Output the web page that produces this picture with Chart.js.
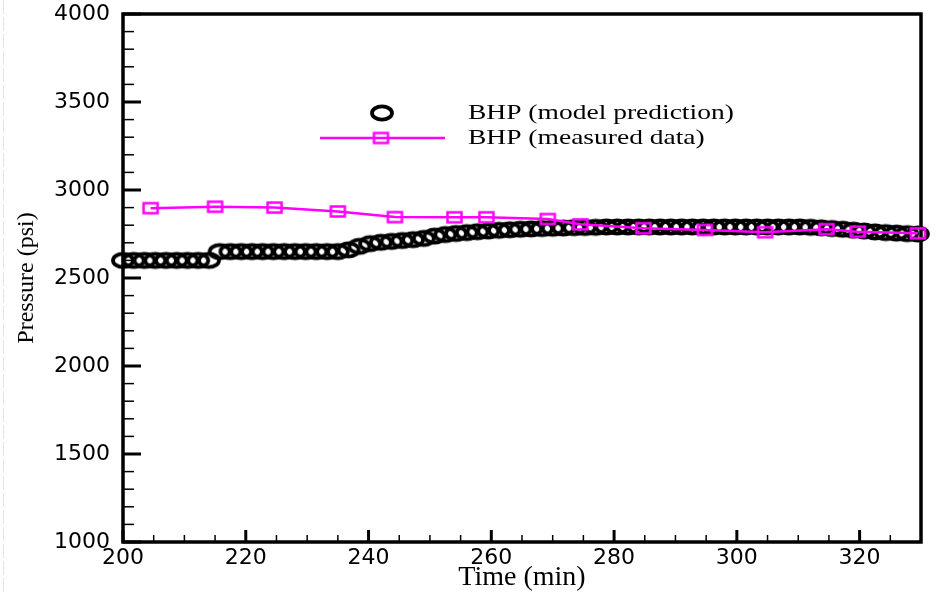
<!DOCTYPE html>
<html>
<head>
<meta charset="utf-8">
<script src="https://cdn.jsdelivr.net/npm/chart.js@4.4.1/dist/chart.umd.min.js"></script>
<style>
  html, body { margin: 0; padding: 0; background: #fff; }
  #wrap { width: 940px; height: 594px; }
</style>
</head>
<body>
<div id="wrap"><canvas id="bhpChart" width="940" height="594"></canvas></div>
<script>
// model prediction (circles)
const modelTime = [200, 201.75, 203.5, 205.25, 207, 208.75, 210.5, 212.25, 214,
  215.75, 217.5, 219.25, 221, 222.75, 224.5, 226.25, 228, 229.75, 231.5, 233.25, 235,
  236.75, 238.5, 240.25, 242, 243.75, 245.5, 247.25, 249, 250.75, 252.5, 254.25, 256,
  257.75, 259.5, 261.25, 263, 264.75, 266.5, 268.25, 270, 271.75, 273.5, 275.25, 277,
  278.75, 280.5, 282.25, 284, 285.75, 287.5, 289.25, 291, 292.75, 294.5, 296.25, 298,
  299.75, 301.5, 303.25, 305, 306.75, 308.5, 310.25, 312, 313.75, 315.5, 317.25, 319,
  320.75, 322.5, 324.25, 326, 327.75, 329.5];
const modelBHP = [2600, 2600, 2600, 2600, 2600, 2600, 2600, 2600, 2600,
  2650, 2650, 2650, 2650, 2650, 2650, 2650, 2650, 2650, 2650, 2650, 2650,
  2660, 2680, 2695, 2703, 2708, 2713, 2718, 2725, 2738, 2747, 2753, 2758,
  2763, 2767, 2771, 2774, 2777, 2779, 2781, 2783, 2784, 2786, 2787, 2788,
  2790, 2790, 2790, 2790, 2790, 2790, 2790, 2790, 2790, 2790, 2790, 2790,
  2790, 2790, 2790, 2790, 2790, 2790, 2790, 2788, 2785, 2781, 2777, 2772,
  2767, 2762, 2758, 2755, 2752, 2750];

// measured data (squares + line)
const measTime = [204.5, 215, 224.7, 235, 244.3, 254, 259.2, 269.2, 274.5, 284.8, 294.8, 304.6, 314.6, 319.7, 329.5];
const measBHP = [2897, 2905, 2900, 2878, 2846, 2845, 2845, 2835, 2805, 2783, 2773, 2760, 2777, 2763, 2754];

const xTicks = [200, 220, 240, 260, 280, 300, 320];
const yTicks = [1000, 1500, 2000, 2500, 3000, 3500, 4000];
const xMinorStep = 5;
const yMinorStep = 100;

const legendLabels = ['BHP (model prediction)', 'BHP (measured data)'];
const MAGENTA = '#ff00ff';

// point symbols (stretched like the original plot)
function makeEllipse() {
  const c = document.createElement('canvas');
  c.width = 26; c.height = 20;
  const g = c.getContext('2d');
  g.lineWidth = 3.8;
  g.strokeStyle = '#000';
  g.beginPath();
  g.ellipse(13, 10, 10, 6.6, 0, 0, Math.PI * 2);
  g.stroke();
  return c;
}
function makeRect() {
  const c = document.createElement('canvas');
  c.width = 19; c.height = 15;
  const g = c.getContext('2d');
  g.lineWidth = 2.5;
  g.strokeStyle = MAGENTA;
  g.strokeRect(2.5, 2.5, 14, 10);
  return c;
}
const ellipseImg = makeEllipse();
const rectImg = makeRect();

const framePlugin = {
  id: 'frame',
  beforeDatasetsDraw(chart) {
    const { ctx, chartArea: a, scales } = chart;
    ctx.save();
    // faint line at the far left edge
    ctx.strokeStyle = '#e4e4e4';
    ctx.lineWidth = 1;
    ctx.setLineDash([14, 3]);
    ctx.beginPath(); ctx.moveTo(3.5, 0); ctx.lineTo(3.5, 594); ctx.stroke();
    ctx.setLineDash([]);

    ctx.strokeStyle = '#000';
    // y ticks (inside, from left axis)
    for (let v = 1000; v <= 4000; v += yMinorStep) {
      const y = scales.y.getPixelForValue(v);
      const major = v % 500 === 0;
      ctx.lineWidth = major ? 3 : 1.5;
      ctx.beginPath();
      ctx.moveTo(a.left, y);
      ctx.lineTo(a.left + (major ? 18 : 11), y);
      ctx.stroke();
    }
    // x ticks (inside, from bottom axis)
    for (let v = 200; v <= 330; v += xMinorStep) {
      const x = scales.x.getPixelForValue(v);
      const major = v % 20 === 0;
      ctx.lineWidth = major ? 3 : 1.5;
      ctx.beginPath();
      ctx.moveTo(x, a.bottom);
      ctx.lineTo(x, a.bottom - (major ? 12 : 7));
      ctx.stroke();
    }
    // frame
    ctx.lineWidth = 3.5;
    ctx.strokeRect(a.left, a.top, a.right - a.left, a.bottom - a.top);
    ctx.restore();
  },
  afterDraw(chart) {
    const ctx = chart.ctx;
    ctx.save();
    // legend symbols
    ctx.drawImage(ellipseImg, 382 - 13, 113 - 10);
    ctx.strokeStyle = MAGENTA;
    ctx.lineWidth = 2.5;
    ctx.beginPath(); ctx.moveTo(320, 138); ctx.lineTo(445, 138); ctx.stroke();
    ctx.drawImage(rectImg, 381 - 9.5, 138 - 7.5);
    // legend text, stretched horizontally
    ctx.fillStyle = '#000';
    ctx.font = '22px "Liberation Serif", "Times New Roman", serif';
    ctx.textBaseline = 'middle';
    const rows = [113, 138];
    legendLabels.forEach((t, i) => {
      ctx.save();
      ctx.translate(468, rows[i]);
      ctx.scale(1.25, 1);
      ctx.fillText(t, 0, 0);
      ctx.restore();
    });
    ctx.restore();
  }
};

const ctx = document.getElementById('bhpChart').getContext('2d');
const bhpChart = new Chart(ctx, {
  type: 'scatter',
  data: {
    datasets: [{
      label: legendLabels[0],
      data: modelTime.map((t, i) => ({ x: t, y: modelBHP[i] })),
      showLine: false,
      pointStyle: ellipseImg,
      clip: false,
      order: 2
    }, {
      label: legendLabels[1],
      data: measTime.map((t, i) => ({ x: t, y: measBHP[i] })),
      showLine: true,
      borderColor: MAGENTA,
      borderWidth: 2.5,
      pointStyle: rectImg,
      tension: 0,
      clip: false,
      order: 1
    }]
  },
  options: {
    responsive: false,
    animation: false,
    events: [],
    layout: { padding: { top: 14, right: 19, left: 0, bottom: 0 } },
    plugins: { legend: { display: false }, tooltip: { enabled: false } },
    scales: {
      x: {
        type: 'linear',
        min: 200,
        max: 330,
        afterBuildTicks: s => { s.ticks = xTicks.map(v => ({ value: v })); },
        afterFit: s => { s.height = 52; s.paddingLeft = 0; s.paddingRight = 0; },
        grid: { display: false, drawTicks: false },
        border: { display: false },
        ticks: {
          color: '#000',
          padding: 3,
          maxRotation: 0,
          callback: v => String(v),
          font: { family: '"DejaVu Sans", sans-serif', size: 22 }
        },
        title: {
          display: true,
          text: 'Time (min)',
          color: '#000',
          padding: { top: 0, bottom: 0 },
          font: { family: '"Liberation Serif", serif', size: 28 }
        }
      },
      y: {
        min: 1000,
        max: 4000,
        afterBuildTicks: s => { s.ticks = yTicks.map(v => ({ value: v })); },
        afterFit: s => { s.width = 123; s.paddingTop = 0; s.paddingBottom = 0; },
        grid: { display: false, drawTicks: false },
        border: { display: false },
        ticks: {
          color: '#000',
          padding: 13,
          callback: v => String(v),
          font: { family: '"DejaVu Sans", sans-serif', size: 22 }
        },
        title: {
          display: true,
          text: 'Pressure (psi)',
          color: '#000',
          padding: { top: 12, bottom: 0 },
          font: { family: '"Liberation Serif", serif', size: 24 }
        }
      }
    }
  },
  plugins: [framePlugin]
});
</script>
</body>
</html>
